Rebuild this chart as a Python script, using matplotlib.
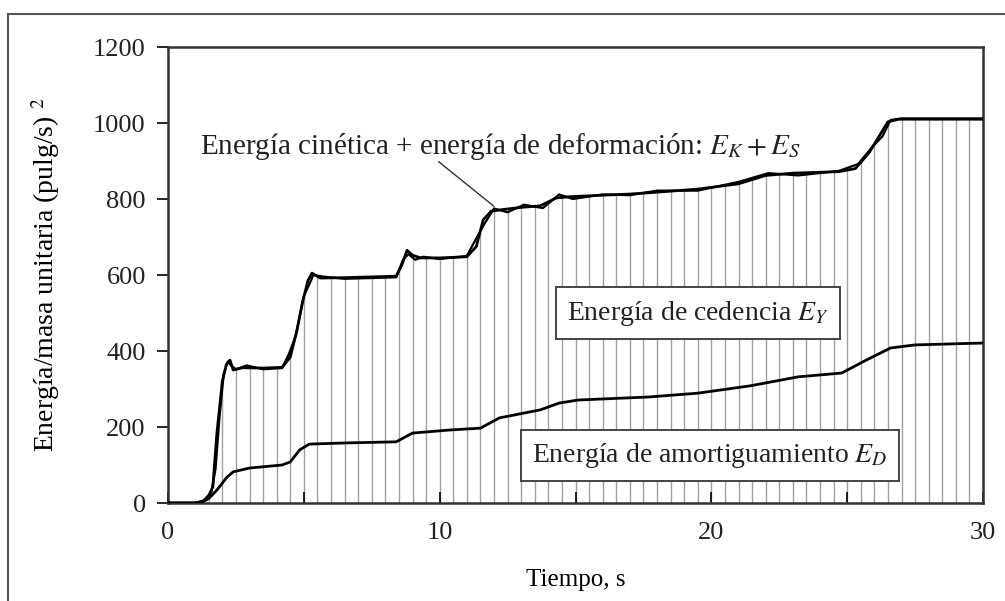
import numpy as np
import matplotlib.pyplot as plt
from matplotlib.lines import Line2D

# tiempo (s) y energía de entrada (curva superior)
t_top = [0.0, 1.0, 1.3, 1.5, 1.65, 1.8, 2.0, 2.15, 2.28, 2.4, 2.75, 3.5, 4.2, 4.5, 4.75, 4.95, 5.15,
         5.3, 5.6, 6.5, 7.5, 8.4, 8.6, 8.8, 9.0, 9.3, 10.0, 11.0, 11.35, 11.6, 11.9, 12.3, 13.0,
         13.7, 14.3, 14.8, 16.0, 17.0, 18.0, 19.5, 21.0, 22.0, 23.0, 24.7, 25.3, 25.8, 26.25,
         26.5, 26.9, 28.0, 30.0]
e_top = [0, 0, 5, 20, 42, 184, 320, 365, 376, 350, 356, 355, 357, 384, 455, 528, 585,
         605, 592, 593, 595, 597, 625, 665, 652, 645, 645, 648, 675, 745, 768, 772, 778,
         782, 803, 806, 810, 813, 818, 826, 840, 862, 868, 872, 880, 921, 974,
         1003, 1010, 1010, 1010]

# segunda curva: energía cinética + deformación + cedencia + amortiguamiento
t_sum = [0.0, 1.0, 1.4, 1.6, 1.75, 1.9, 2.05, 2.2, 2.35, 2.5, 2.9, 3.5, 4.2, 4.45, 4.7, 5.0, 5.2,
         5.35, 5.7, 6.5, 7.5, 8.4, 8.65, 8.85, 9.1, 9.4, 10.0, 11.0, 11.3, 11.65, 12.0, 12.5, 13.1,
         13.8, 14.4, 14.9, 16.0, 17.0, 18.0, 19.5, 21.0, 22.1, 23.2, 24.7, 25.4, 25.9, 26.3,
         26.6, 27.0, 28.0, 30.0]
e_sum = [0, 0, 8, 30, 90, 230, 340, 372, 360, 352, 362, 352, 355, 392, 440, 545, 575,
         600, 596, 590, 592, 594, 640, 655, 640, 648, 642, 650, 690, 735, 775, 765, 785,
         776, 812, 800, 812, 810, 822, 822, 845, 868, 862, 874, 892, 935, 965,
         1008, 1012, 1012, 1012]

# energía de amortiguamiento
t_d = [0.0, 1.2, 1.5, 1.8, 2.17, 2.4, 3.0, 4.2, 4.5, 4.85, 5.2, 6.5, 8.4, 9.0, 10.35, 11.5,
       12.2, 13.7, 14.4, 15.1, 17.7, 19.5, 20.6, 21.4, 23.2, 24.8, 25.7, 26.6, 27.5, 30.0]
e_d = [0, 0, 12, 34, 68, 82, 92, 100, 108, 140, 155, 158, 161, 184, 192, 197,
       224, 245, 263, 271, 279, 289, 300, 308, 332, 342, 376, 408, 416, 421]

x_ticks = [0, 10, 20, 30]
y_ticks = [0, 200, 400, 600, 800, 1000, 1200]
hatch_t = np.arange(0.5, 30.0, 0.5)

plt.rcParams['font.family'] = ['Liberation Serif', 'DejaVu Serif']
plt.rcParams['mathtext.fontset'] = 'stix'
plt.rcParams['text.color'] = '#222222'

fig = plt.figure(figsize=(10.05, 6.01), dpi=100)
ax = fig.add_axes([168 / 1005, 1 - 503 / 601, (983 - 168) / 1005, (503 - 47) / 601])

# rayado vertical bajo la curva superior
ax.vlines(hatch_t, 0, np.interp(hatch_t, t_top, e_top), colors='#a0a0a0', linewidth=1.0, zorder=1)

ax.plot(t_top, e_top, color='black', linewidth=2.0, zorder=3)
ax.plot(t_sum, e_sum, color='black', linewidth=1.6, zorder=3)
ax.plot(t_d, e_d, color='black', linewidth=2.0, zorder=3)

ax.set_xlim(0, 30)
ax.set_ylim(0, 1200)
ax.set_xticks(x_ticks)
ax.set_xticks([5, 15, 25], minor=True)
ax.set_yticks(y_ticks)
ax.tick_params(axis='y', direction='out', length=8, width=1.2, labelsize=19, pad=8,
               labelcolor='#222222')
ax.tick_params(axis='x', which='both', direction='in', length=8, width=1.2, labelsize=19, pad=14,
               labelcolor='#222222')
for s in ax.spines.values():
    s.set_linewidth(1.8)
    s.set_color('#333333')

ax.set_xlabel('Tiempo, s', fontsize=18, labelpad=18)
ax.set_ylabel('Energía/masa unitaria (pulg/s) $^{2}$', fontsize=20)
ax.yaxis.set_label_coords(-0.13, 0.5)

ax.text(1.18, 937, 'Energía cinética + energía de deformación: $E_K + E_S$',
        fontsize=21, va='center', ha='left', zorder=5)
ax.annotate('', xy=(12.08, 776), xytext=(9.88, 903),
            arrowprops=dict(arrowstyle='-', color='#333333', linewidth=1.0))

box = dict(boxstyle='square,pad=0.4', facecolor='white', edgecolor='#444444', linewidth=1.4)
ax.text(19.5, 500, 'Energía de cedencia $E_Y$', fontsize=20, ha='center', va='center',
        bbox=box, zorder=5)
ax.text(19.95, 126, 'Energía de amortiguamiento $E_D$', fontsize=20, ha='center', va='center',
        bbox=box, zorder=5)

# marco exterior de la figura
fig.add_artist(Line2D([8 / 1005, 8 / 1005], [0, 1 - 14 / 601], transform=fig.transFigure,
                      color='#555555', linewidth=1.5))
fig.add_artist(Line2D([8 / 1005, 1], [1 - 14 / 601, 1 - 14 / 601], transform=fig.transFigure,
                      color='#555555', linewidth=1.5))

fig.savefig('out.png', dpi=100)
